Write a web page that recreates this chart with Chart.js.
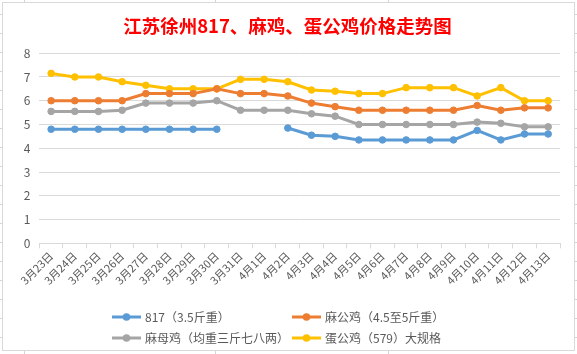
<!DOCTYPE html>
<html><head><meta charset="utf-8">
<script src="https://cdn.jsdelivr.net/npm/chart.js@4"></script>
<style>html,body{margin:0;padding:0;background:#fff;overflow:hidden}</style>
</head><body>
<canvas id="c" width="577" height="354"></canvas>
<script>
const titleText = '江苏徐州817、麻鸡、蛋公鸡价格走势图';
const categories = ['3月23日','3月24日','3月25日','3月26日','3月27日','3月28日','3月29日','3月30日','3月31日','4月1日','4月2日','4月3日','4月4日','4月5日','4月6日','4月7日','4月8日','4月9日','4月10日','4月11日','4月12日','4月13日'];
const seriesNames = ['817（3.5斤重）','麻公鸡（4.5至5斤重）','麻母鸡（均重三斤七八两）','蛋公鸡（579）大规格'];
const price817 = [4.8,4.8,4.8,4.8,4.8,4.8,4.8,4.8,null,null,4.85,4.55,4.5,4.35,4.35,4.35,4.35,4.35,4.75,4.35,4.6,4.6];
const maGongJi = [6,6,6,6,6.3,6.3,6.3,6.5,6.3,6.3,6.2,5.9,5.75,5.6,5.6,5.6,5.6,5.6,5.8,5.6,5.7,5.7];
const maMuJi = [5.55,5.55,5.55,5.6,5.9,5.9,5.9,6.0,5.6,5.6,5.6,5.45,5.35,5.0,5.0,5.0,5.0,5.0,5.1,5.05,4.9,4.9];
const danGongJi = [7.15,7.0,7.0,6.8,6.65,6.5,6.5,6.5,6.9,6.9,6.8,6.45,6.4,6.3,6.3,6.55,6.55,6.55,6.2,6.55,6.0,6.0];
const yMin = 0, yMax = 8, yStep = 1;

const colors = ['#5B9BD5','#ED7D31','#A5A5A5','#FFC000'];
const seriesData = [price817, maGongJi, maMuJi, danGongJi];
const FONT = "'Noto Sans CJK SC', 'Noto Sans', sans-serif";

const bgPlugin = {
  id: 'bg',
  beforeDraw(chart) {
    const ctx = chart.ctx, W = chart.width, H = chart.height;
    ctx.save();
    ctx.fillStyle = '#fff';
    ctx.fillRect(0, 0, W, H);
    ctx.strokeStyle = '#d4d4d4';
    ctx.lineWidth = 1;
    ctx.beginPath();
    for (let y = 14.5; y < H; y += 19) { ctx.moveTo(0, y); ctx.lineTo(W, y); }
    [24.5, 215.5, 388.5].forEach(x => { ctx.moveTo(x, 0); ctx.lineTo(x, H); });
    ctx.stroke();
    ctx.fillStyle = '#fff';
    ctx.fillRect(2.5, 2.5, 572, 348);
    ctx.strokeStyle = '#d9d9d9';
    ctx.strokeRect(2.5, 2.5, 572, 348);
    ctx.restore();
  }
};

const overlayPlugin = {
  id: 'overlay',
  afterDraw(chart) {
    const ctx = chart.ctx;
    ctx.save();
    // title
    ctx.fillStyle = '#FF0000';
    ctx.font = 'bold 18.5px ' + FONT;
    ctx.textAlign = 'center';
    ctx.textBaseline = 'middle';
    ctx.fillText(chart.options.plugins.title.text, 287.5, 25.5);
    // legend
    const colX = [112, 292];
    const rowY = [317, 338];
    chart.data.datasets.forEach((ds, i) => {
      const x = colX[i % 2], y = rowY[Math.floor(i / 2)];
      ctx.strokeStyle = ds.borderColor;
      ctx.lineWidth = 3;
      ctx.beginPath();
      ctx.moveTo(x, y); ctx.lineTo(x + 29, y);
      ctx.stroke();
      ctx.fillStyle = ds.borderColor;
      ctx.beginPath();
      ctx.arc(x + 14.5, y, 3.8, 0, Math.PI * 2);
      ctx.fill();
      ctx.fillStyle = '#595959';
      ctx.font = '12px ' + FONT;
      ctx.textBaseline = 'middle';
      ctx.textAlign = 'left';
      ctx.fillText(ds.label, x + 33, y);
    });
    ctx.restore();
  }
};

new Chart(document.getElementById('c'), {
  type: 'line',
  data: {
    labels: categories,
    datasets: seriesData.map((d, i) => ({
      label: seriesNames[i],
      data: d,
      borderColor: colors[i],
      backgroundColor: colors[i],
      pointBackgroundColor: colors[i],
      pointBorderColor: colors[i],
      pointBorderWidth: 1,
      pointRadius: 3.3,
      borderWidth: 3,
      tension: 0,
      spanGaps: false,
      fill: false
    }))
  },
  options: {
    responsive: false,
    devicePixelRatio: 1,
    animation: false,
    layout: { padding: { left: 0, right: 17, top: 0, bottom: 0 } },
    plugins: {
      legend: { display: false },
      tooltip: { enabled: false },
      title: {
        display: true,
        text: titleText,
        color: 'rgba(0,0,0,0)',
        font: { family: FONT, size: 18.5, weight: 'bold' },
        padding: { top: 14, bottom: 17 }
      }
    },
    scales: {
      x: {
        offset: true,
        grid: { offset: true, drawOnChartArea: false, drawTicks: true, tickLength: 5, color: '#d9d9d9' },
        border: { display: true, color: '#d9d9d9', width: 1 },
        ticks: { maxRotation: 45, minRotation: 45, autoSkip: false, color: '#595959', font: { family: FONT, size: 11 }, padding: 1 },
        afterFit(scale) { scale.height = 110.7; }
      },
      y: {
        min: yMin, max: yMax,
        ticks: { stepSize: yStep, color: '#595959', font: { family: FONT, size: 12 }, padding: 9 },
        grid: { color: '#d9d9d9', drawTicks: false },
        border: { display: false },
        afterFit(scale) { scale.width = 39.3; }
      }
    }
  },
  plugins: [bgPlugin, overlayPlugin]
});
</script>
</body></html>
